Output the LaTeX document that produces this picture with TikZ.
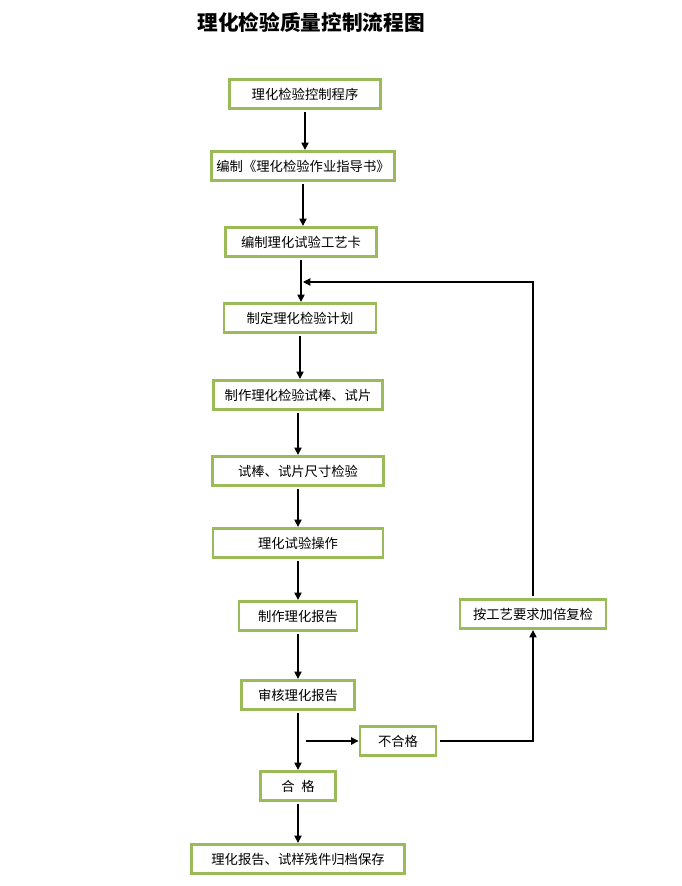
\documentclass[tikz,border=0pt]{standalone}
\usepackage{fontspec}
\setmainfont{Noto Sans CJK SC}
\usetikzlibrary{arrows.meta}
\definecolor{boxgreen}{RGB}{155,187,89}
\begin{document}
\begin{tikzpicture}[x=0.75pt,y=-0.75pt,
  stepbox/.style={draw=boxgreen,line width=2.2pt,fill=white,minimum height=22pt,inner sep=0pt,
    font=\fontsize{10}{12}\selectfont},
  flow/.style={-{Triangle[length=5.5pt,width=5.5pt]},line width=0.8pt,shorten <=1.5pt}]
\useasboundingbox (0,0) rectangle (682,886);
% title
\node[font=\fontsize{15.5}{18}\bfseries] (title) at (311,23) {理化检验质量控制流程图};
% main column
\node[stepbox,minimum width=113pt] (prog) at (305,94) {理化检验控制程序};
\node[stepbox,minimum width=137pt] (guide) at (303,166) {编制《理化检验作业指导书》};
\node[stepbox,minimum width=113pt] (card) at (301,242) {编制理化试验工艺卡};
\node[stepbox,minimum width=114pt] (plan) at (300,318) {制定理化检验计划};
\node[stepbox,minimum width=127pt] (make) at (298,395) {制作理化检验试棒、试片};
\node[stepbox,minimum width=128pt] (size) at (298,471) {试棒、试片尺寸检验};
\node[stepbox,minimum width=127.5pt] (test) at (298,543) {理化试验操作};
\node[stepbox,minimum width=88.5pt] (report) at (298,616) {制作理化报告};
\node[stepbox,minimum width=85pt] (audit) at (298,695) {审核理化报告};
\node[stepbox,minimum width=56pt] (pass) at (298,786) {合\hspace{0.5em}格};
\node[stepbox,minimum width=160pt] (archive) at (298,859) {理化报告、试样残件归档保存};
% side branch
\node[stepbox,minimum width=57pt] (fail) at (398,741) {不合格};
\node[stepbox,minimum width=109.5pt] (recheck) at (533,614) {按工艺要求加倍复检};
% arrows down the column
\draw[flow] (prog.south) -- (prog.south |- guide.north);
\draw[flow] (guide.south) -- (guide.south |- card.north);
\coordinate (merge) at (card.south |- 0,282);
\draw[flow] (card.south) -- (card.south |- plan.north);
\draw[flow] (plan.south) -- (plan.south |- make.north);
\draw[flow] (make.south) -- (make.south |- size.north);
\draw[flow] (size.south) -- (size.south |- test.north);
\draw[flow] (test.south) -- (test.south |- report.north);
\draw[flow] (report.south) -- (report.south |- audit.north);
\draw[flow] (audit.south) -- (audit.south |- pass.north);
\draw[flow] (pass.south) -- (pass.south |- archive.north);
% failed branch and re-check loop
\coordinate (branch) at (audit.south |- fail.west);
\draw[flow] ([xshift=4.5pt]branch) -- (fail.west);
\draw[flow,shorten <=2pt] (fail.east) -| (recheck.south);
\draw[flow] (recheck.north) |- ([xshift=1.5pt]merge);
\end{tikzpicture}
\end{document}
